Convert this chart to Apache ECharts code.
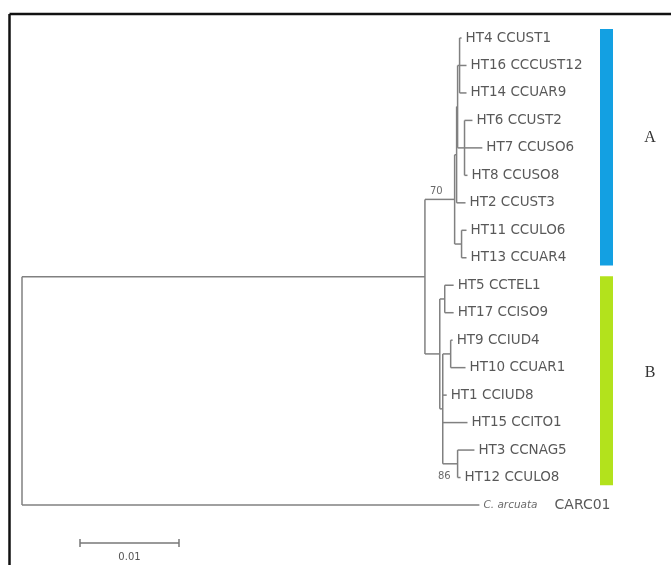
<!DOCTYPE html>
<html>
<head>
<meta charset="utf-8">
<script src="https://cdn.jsdelivr.net/npm/echarts@6/dist/echarts.min.js"></script>
<style>
  html, body { margin: 0; padding: 0; background: #fff; }
  #chart { width: 671px; height: 565px; }
</style>
</head>
<body>
<div id="chart"></div>
<script>
// tree in newick form, branch lengths
var treeNewick = "((((((('HT4 CCUST1':0.0002,'HT16 CCCUST12':0.0007,'HT14 CCUAR9':0.0007):0.0002," +
  "('HT6 CCUST2':0.0008,'HT7 CCUSO6':0.0018,'HT8 CCUSO8':0.0003):0.0007):0.0001,'HT2 CCUST3':0.0009):0.0002," +
  "('HT11 CCULO6':0.0005,'HT13 CCUAR4':0.0005):0.0007)70:0.0030," +
  "(('HT5 CCTEL1':0.0009,'HT17 CCISO9':0.0009):0.0005," +
  "(('HT9 CCIUD4':0.0002,'HT10 CCUAR1':0.0015):0.0008,'HT1 CCIUD8':0.0004,'HT15 CCITO1':0.0025," +
  "('HT3 CCNAG5':0.0017,'HT12 CCULO8':0.0003)86:0.0015):0.0003):0.0015):0.0407,'C. arcuata|CARC01':0.0462);";

// clades: first and last leaf index, colour
var cladeNames = ['A', 'B'];
var cladeFrom = [0, 9];
var cladeTo = [8, 16];
var cladeColors = ['#13a0e2', '#b3e21c'];

var scaleBar = [0.01];

function parseNewick(s) {
  var i = 0;
  function readLabel() {
    if (s[i] === "'") {
      var j = s.indexOf("'", i + 1);
      var t = s.slice(i + 1, j);
      i = j + 1;
      return t;
    }
    var k = i;
    while (k < s.length && "(),:;".indexOf(s[k]) < 0) k++;
    var t2 = s.slice(i, k);
    i = k;
    return t2;
  }
  function readNode() {
    var node = { children: [] };
    if (s[i] === '(') {
      i++;
      node.children.push(readNode());
      while (s[i] === ',') { i++; node.children.push(readNode()); }
      i++;
    }
    node.name = readLabel();
    node.length = 0;
    if (s[i] === ':') {
      i++;
      var k = i;
      while (k < s.length && "(),;".indexOf(s[k]) < 0) k++;
      node.length = parseFloat(s.slice(i, k));
      i = k;
    }
    return node;
  }
  return readNode();
}

var root = parseNewick(treeNewick);
var leafCount = 0;
var segments = [], leaves = [], outgroup = [], support = [];

function layout(node, x0) {
  node.x = x0 + node.length;
  if (!node.children.length) {
    node.y = leafCount++;
    if (node.name.indexOf('|') >= 0) outgroup.push({ value: [node.x, node.y], name: node.name });
    else leaves.push({ value: [node.x, node.y], name: node.name });
    return;
  }
  node.children.forEach(function (c) { layout(c, node.x); });
  var first = node.children[0], last = node.children[node.children.length - 1];
  node.y = (first.y + last.y) / 2;
  segments.push([node.x, first.y, node.x, last.y]);
  node.children.forEach(function (c) { segments.push([node.x, c.y, c.x, c.y]); });
  if (node.name) support.push({ value: [node.x, node.y], name: node.name });
}
layout(root, -root.length);

var chart = echarts.init(document.getElementById('chart'));
var font = 'DejaVu Sans';

chart.setOption({
  animation: false,
  grid: { left: 22, right: 5.5, top: 38, bottom: 60 },
  xAxis: { type: 'value', min: 0, max: 0.065, show: false },
  yAxis: { type: 'value', min: 0, max: leafCount - 1, inverse: true, show: false },
  graphic: [
    { type: 'line', shape: { x1: 9.5, y1: 14, x2: 680, y2: 14 }, style: { stroke: '#111', lineWidth: 2.5 } },
    { type: 'line', shape: { x1: 9.5, y1: 14, x2: 9.5, y2: 580 }, style: { stroke: '#111', lineWidth: 2.5 } }
  ],
  series: [
    {
      type: 'custom',
      data: segments,
      encode: { x: [0, 2], y: [1, 3] },
      renderItem: function (params, api) {
        var p1 = api.coord([api.value(0), api.value(1)]);
        var p2 = api.coord([api.value(2), api.value(3)]);
        return {
          type: 'line',
          shape: { x1: p1[0], y1: p1[1], x2: p2[0], y2: p2[1] },
          style: { stroke: '#808080', lineWidth: 1.5 }
        };
      }
    },
    {
      type: 'scatter',
      data: leaves,
      symbolSize: 0,
      label: {
        show: true, position: 'right', distance: 4,
        formatter: '{b}', fontFamily: font, fontSize: 13.5, color: '#2e2e2e'
      }
    },
    {
      type: 'scatter',
      data: outgroup,
      symbolSize: 0,
      label: {
        show: true, position: 'right', distance: 4,
        formatter: function (p) {
          var parts = p.name.split('|');
          return '{i|' + parts[0] + '}{n|' + parts[1] + '}';
        },
        rich: {
          i: { fontFamily: font, fontStyle: 'italic', fontSize: 10.5, color: '#444' },
          n: { fontFamily: font, fontSize: 14, color: '#2e2e2e', padding: [0, 0, 0, 17] }
        }
      }
    },
    {
      type: 'scatter',
      data: support,
      symbolSize: 0,
      label: {
        show: true, position: 'left', distance: 12,
        formatter: '{b}', fontFamily: font, fontSize: 10, color: '#444'
      },
      labelLayout: function (p) {
        return p.text === '70' ? { dy: -8 } : { dx: 5, dy: 13 };
      }
    },
    {
      type: 'custom',
      data: cladeNames.map(function (n, k) { return [cladeFrom[k], cladeTo[k], k]; }),
      renderItem: function (params, api) {
        var k = api.value(2);
        var top = api.coord([0, api.value(0) - 0.33])[1];
        var bot = api.coord([0, api.value(1) + 0.28])[1];
        return {
          type: 'group',
          children: [
            { type: 'rect', shape: { x: 600, y: top, width: 13, height: bot - top },
              style: { fill: cladeColors[k] } },
            { type: 'text', x: 650, y: top + (bot - top) * 0.46,
              style: { text: cladeNames[k], font: '16px "Liberation Serif"', fill: '#333',
                       align: 'center', verticalAlign: 'middle' } }
          ]
        };
      }
    },
    {
      type: 'custom',
      data: scaleBar.map(function (v) { return [v]; }),
      renderItem: function (params, api) {
        var len = api.coord([api.value(0), 0])[0] - api.coord([0, 0])[0];
        var x0 = 80, y0 = 543;
        var st = { stroke: '#777', lineWidth: 1.5 };
        return {
          type: 'group',
          children: [
            { type: 'line', shape: { x1: x0, y1: y0, x2: x0 + len, y2: y0 }, style: st },
            { type: 'line', shape: { x1: x0, y1: y0 - 4, x2: x0, y2: y0 + 4 }, style: st },
            { type: 'line', shape: { x1: x0 + len, y1: y0 - 4, x2: x0 + len, y2: y0 + 4 }, style: st },
            { type: 'text', x: x0 + len / 2, y: y0 + 14,
              style: { text: String(api.value(0)), font: '10px "DejaVu Sans"', fill: '#555',
                       align: 'center', verticalAlign: 'middle' } }
          ]
        };
      }
    }
  ]
});
</script>
</body>
</html>
